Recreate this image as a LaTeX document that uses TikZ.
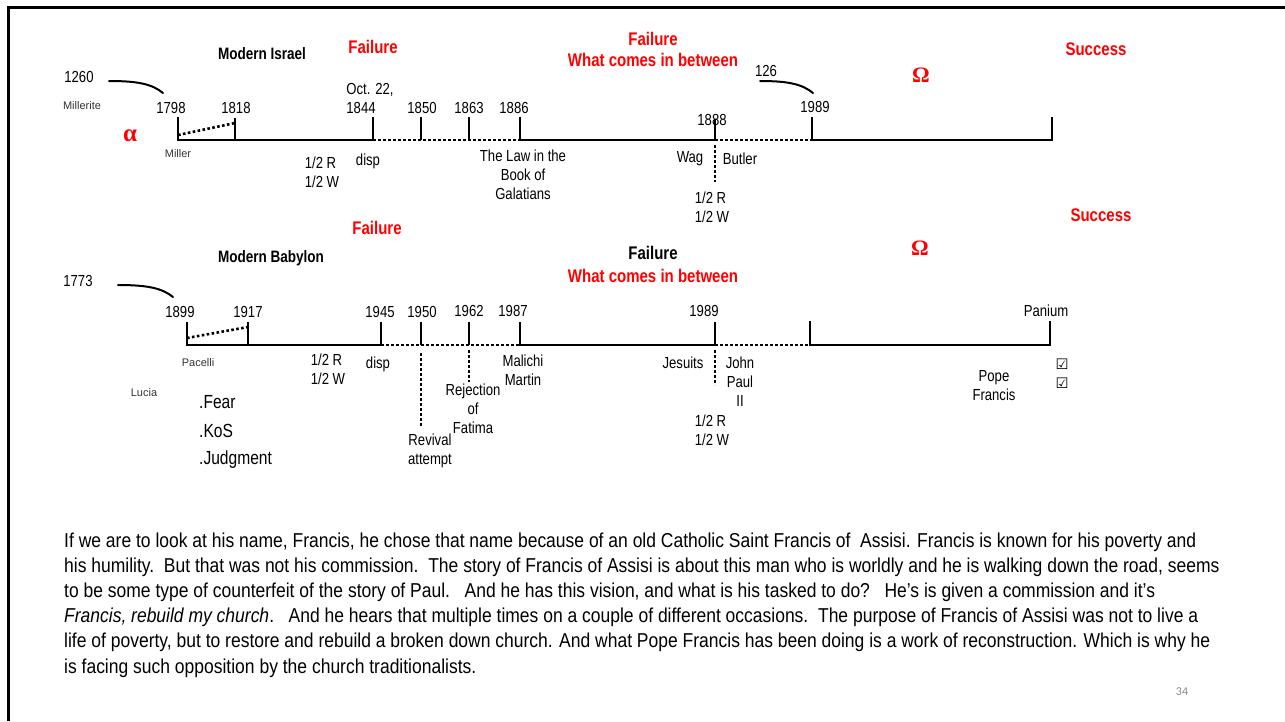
\documentclass[tikz,border=0pt]{standalone}
\usepackage{fontspec}
\setmainfont[FakeStretch=0.82]{Liberation Sans}
\newfontfamily\parafont[FakeStretch=0.87]{Liberation Sans}
\newfontfamily\widefont{Liberation Sans}
\newfontfamily\omegafont{Liberation Serif}
\newfontfamily\symfont{DejaVu Sans}
\newfontfamily\pagefont{Carlito}
\definecolor{redtxt}{RGB}{255,0,0}
\definecolor{pagegray}{RGB}{137,137,137}
\tikzset{
  lbl/.style={inner sep=0pt, font=\fontsize{16}{19}\selectfont},
  sml/.style={inner sep=0pt, font=\widefont\fontsize{11}{13}\selectfont, text=black!80},
  hdr/.style={inner sep=0pt, font=\bfseries\fontsize{16.5}{19}\selectfont},
  rhdr/.style={inner sep=0pt, text=redtxt, font=\bfseries\fontsize{18.3}{21}\selectfont},
  bhdr/.style={inner sep=0pt, text=black, font=\bfseries\fontsize{18.3}{21}\selectfont},
  greek/.style={inner sep=0pt, text=redtxt, font=\omegafont\bfseries\fontsize{22}{24}\selectfont},
  item/.style={inner sep=0pt, anchor=west, font=\fontsize{19}{22}\selectfont},
  para/.style={inner sep=0pt, anchor=base west, font=\parafont\fontsize{20.1}{23}\selectfont},
  chk/.style={inner sep=0pt, font=\symfont\fontsize{14.5}{16}\selectfont},
  tl/.style={line width=2.6pt},
  dl/.style={line width=2.6pt, dash pattern=on 2.6pt off 2.4pt},
  hook/.style={line width=2pt, line cap=round}
}
\begin{document}
\begin{tikzpicture}[x=1pt,y=-1pt]
\useasboundingbox (0,0) rectangle (1285,721);
% frame
\draw[line width=3pt] (1285,7) -- (8.5,7) -- (8.5,721);

% ---------------- top timeline ----------------
\coordinate (t1798) at (178,117); \coordinate (b1798) at (178,140);
\coordinate (t1818) at (235,118); \coordinate (b1818) at (235,140);
\coordinate (t1844) at (373,117); \coordinate (b1844) at (373,140);
\coordinate (t1850) at (421,117); \coordinate (b1850) at (421,140);
\coordinate (t1863) at (469,117); \coordinate (b1863) at (469,140);
\coordinate (t1886) at (520,117); \coordinate (b1886) at (520,140);
\coordinate (t1888) at (715,119); \coordinate (b1888) at (715,140);
\coordinate (d1888a) at (715,145); \coordinate (d1888b) at (715,182);
\coordinate (t1989) at (812,117); \coordinate (b1989) at (812,140);
\coordinate (tend) at (1052,117); \coordinate (bend) at (1052,140);
\coordinate (m1798) at (178,135); \coordinate (m1818) at (235,123);

\draw[tl] (t1798) -- (b1798) -- (b1844);
\draw[tl] (t1818) -- (b1818);
\draw[dl] (m1798) -- (m1818);
\draw[tl] (t1844) -- (b1844);
\draw[dl] (b1844) -- (b1886);
\draw[tl] (t1850) -- (b1850);
\draw[tl] (t1863) -- (b1863);
\draw[tl] (t1886) -- (b1886) -- (b1888);
\draw[tl] (t1888) -- (b1888);
\draw[dl] (d1888a) -- (d1888b);
\draw[dl] (b1888) -- (b1989);
\draw[tl] (t1989) -- (b1989) -- (bend) -- (tend);

\coordinate (h1a) at (109,81); \coordinate (h1b) at (163,93);
\draw[hook] (h1a) .. controls (138,81) and (152,84) .. (h1b);
\coordinate (h2a) at (760,81); \coordinate (h2b) at (813,93);
\draw[hook] (h2a) .. controls (788,81) and (802,84) .. (h2b);

\node[lbl] (n1260) at (79,77) {1260};
\node[sml] (nmillerite) at (82,106) {Millerite};
\node[hdr] (nisrael) at (262,54) {Modern Israel};
\node[rhdr] (nfail1) at (373,47) {Failure};
\node[rhdr] (nfail2) at (653,39) {Failure};
\node[rhdr] (nbetw1) at (653,60) {What comes in between};
\node[rhdr] (nsucc1) at (1096,49) {Success};
\node[greek] (nomega1) at (921,75) {Ω};
\node[greek, font=\omegafont\bfseries\fontsize{25}{26}\selectfont] (nalpha) at (130,136) {α};
\node[lbl] (n126) at (766,71) {126};
\node[lbl] (l1798) at (171,108) {1798};
\node[lbl] (l1818) at (236,108) {1818};
\node[lbl, align=left] (l1844) at (370,98) {Oct. 22,\\1844};
\node[lbl] (l1850) at (422,108) {1850};
\node[lbl] (l1863) at (469,108) {1863};
\node[lbl] (l1886) at (514,108) {1886};
\node[lbl] (l1888) at (712,120) {1888};
\node[lbl] (l1989) at (815,107) {1989};
\node[sml] (nmiller) at (178,154) {Miller};
\node[lbl, align=left] (nhalf1) at (322,172) {1/2 R\\1/2 W};
\node[lbl] (ndisp1) at (368,161) {disp};
\node[lbl, align=center] (nlaw) at (523,175) {The Law in the\\Book of\\Galatians};
\node[lbl] (nwag) at (690,159) {Wag};
\node[lbl] (nbutler) at (740,159) {Butler};
\node[lbl, align=left] (nhalf2) at (712,207) {1/2 R\\1/2 W};

% ---------------- bottom timeline ----------------
\coordinate (t1899) at (187,322); \coordinate (b1899) at (187,345);
\coordinate (t1917) at (248,322); \coordinate (b1917) at (248,345);
\coordinate (t1945) at (381,322); \coordinate (b1945) at (381,345);
\coordinate (t1950) at (421,322); \coordinate (b1950) at (421,345);
\coordinate (d1950a) at (421,353); \coordinate (d1950b) at (421,427);
\coordinate (t1962) at (469,322); \coordinate (b1962) at (469,345);
\coordinate (d1962a) at (469,350); \coordinate (d1962b) at (469,382);
\coordinate (t1987) at (520,322); \coordinate (b1987) at (520,345);
\coordinate (t1989b) at (715,322); \coordinate (b1989b) at (715,345);
\coordinate (d1989a) at (715,350); \coordinate (d1989b) at (715,385);
\coordinate (tom) at (810,321); \coordinate (bom) at (810,345);
\coordinate (tpan) at (1050,321); \coordinate (bpan) at (1050,345);
\coordinate (m1899) at (187,338); \coordinate (m1917) at (248,327);

\draw[tl] (t1899) -- (b1899) -- (b1945);
\draw[tl] (t1917) -- (b1917);
\draw[dl] (m1899) -- (m1917);
\draw[tl] (t1945) -- (b1945);
\draw[dl] (b1945) -- (b1987);
\draw[tl] (t1950) -- (b1950);
\draw[dl] (d1950a) -- (d1950b);
\draw[tl] (t1962) -- (b1962);
\draw[dl] (d1962a) -- (d1962b);
\draw[tl] (t1987) -- (b1987) -- (b1989b);
\draw[tl] (t1989b) -- (b1989b);
\draw[dl] (d1989a) -- (d1989b);
\draw[dl] (b1989b) -- (bom);
\draw[tl] (tom) -- (bom) -- (bpan) -- (tpan);

\coordinate (h3a) at (118,285); \coordinate (h3b) at (173,297);
\draw[hook] (h3a) .. controls (147,285) and (162,288) .. (h3b);

\node[rhdr] (nfail3) at (377,228) {Failure};
\node[hdr] (nbabylon) at (271,258) {Modern Babylon};
\node[bhdr] (nfail4) at (653,253) {Failure};
\node[rhdr] (nbetw2) at (653,276) {What comes in between};
\node[rhdr] (nsucc2) at (1101,215) {Success};
\node[greek] (nomega2) at (920,248) {Ω};
\node[lbl] (n1773) at (78,281) {1773};
\node[lbl] (l1899) at (180,312) {1899};
\node[lbl] (l1917) at (248,312) {1917};
\node[lbl] (l1945) at (380,312) {1945};
\node[lbl] (l1950) at (422,312) {1950};
\node[lbl] (l1962) at (469,311) {1962};
\node[lbl] (l1987) at (513,311) {1987};
\node[lbl] (l1989b) at (704,311) {1989};
\node[lbl] (lpan) at (1046,311) {Panium};
\node[sml] (npacelli) at (198,363) {Pacelli};
\node[sml] (nlucia) at (144,393) {Lucia};
\node[item] (nfear) at (199,402) {.Fear};
\node[item] (nkos) at (199,431) {.KoS};
\node[item] (njudg) at (199,460) {.Judgment};
\node[lbl, align=left] (nhalf3) at (328,369) {1/2 R\\1/2 W};
\node[lbl] (ndisp2) at (378,364) {disp};
\node[lbl, align=center] (nrevival) at (430,451) {Revival\\attempt};
\node[lbl, align=center] (nreject) at (473,409) {Rejection\\of\\Fatima};
\node[lbl, align=center] (nmalichi) at (523,370) {Malichi\\Martin};
\node[lbl] (njesuits) at (683,363) {Jesuits};
\node[lbl, align=center] (njohn) at (740,382) {John\\Paul\\II};
\node[lbl, align=left] (nhalf4) at (712,430) {1/2 R\\1/2 W};
\node[lbl, align=center] (npope) at (994,386) {Pope\\Francis};
\node[chk] (chk1) at (1062,364) {☑};
\node[chk] (chk2) at (1062,383) {☑};

% ---------------- paragraph ----------------
\node[para] (p1) at (64,547) {If we are to look at his name, Francis, he chose that name because of an old Catholic Saint Francis of\ \ Assisi. Francis is known for his poverty and};
\node[para] (p2) at (64,572.2) {his humility.\ \ But that was not his commission.\ \ The story of Francis of Assisi is about this man who is worldly and he is walking down the road, seems};
\node[para] (p3) at (64,597.4) {to be some type of counterfeit of the story of Paul.\ \ \ And he has this vision, and what is his tasked to do?\ \ \ He’s is given a commission and it’s};
\node[para] (p4) at (64,622.6) {\itshape Francis, rebuild my church\upshape .\ \ \ And he hears that multiple times on a couple of different occasions.\ \ The purpose of Francis of Assisi was not to live a};
\node[para] (p5) at (64,647.8) {life of poverty, but to restore and rebuild a broken down church. And what Pope Francis has been doing is a work of reconstruction. Which is why he};
\node[para] (p6) at (64,673) {is facing such opposition by the church traditionalists.};
\node[inner sep=0pt, text=pagegray, font=\pagefont\fontsize{12}{14}\selectfont] (npage) at (1182,692) {34};
\end{tikzpicture}
\end{document}
